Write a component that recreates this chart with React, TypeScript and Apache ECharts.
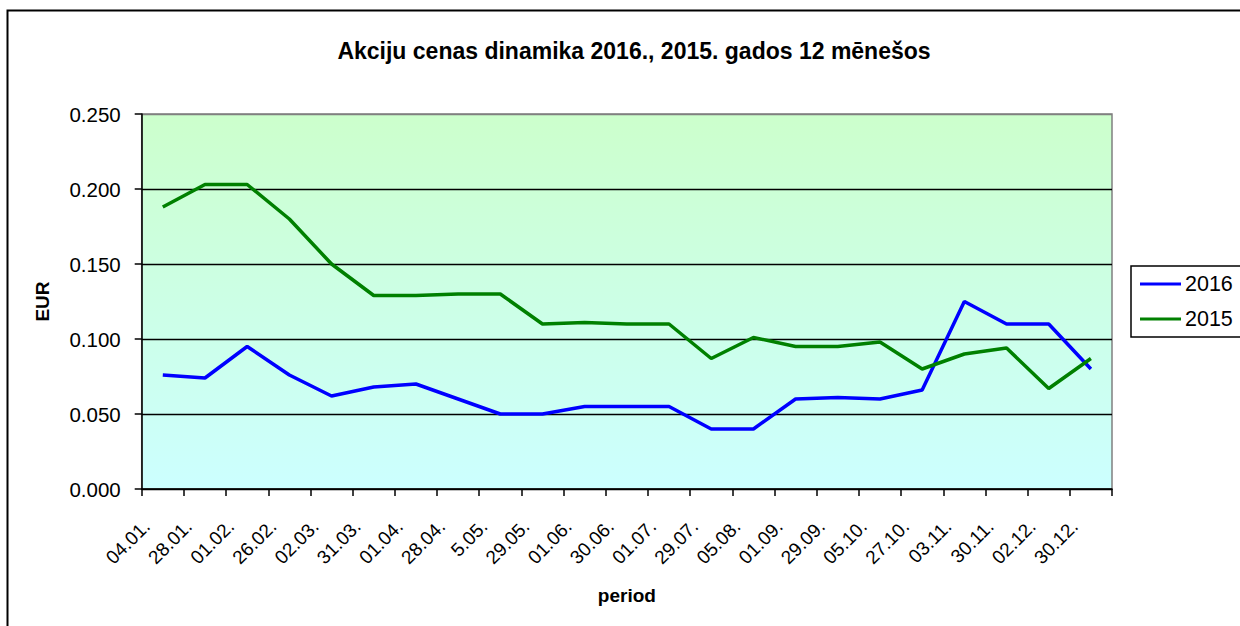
import React, { useEffect, useRef } from "react";
import * as echarts from "echarts";

const categories = [
  "04.01.", "28.01.", "01.02.", "26.02.", "02.03.", "31.03.", "01.04.", "28.04.",
  "5.05.", "29.05.", "01.06.", "30.06.", "01.07.", "29.07.", "05.08.", "01.09.",
  "29.09.", "05.10.", "27.10.", "03.11.", "30.11.", "02.12.", "30.12.",
];
const values2016 = [
  0.076, 0.074, 0.095, 0.076, 0.062, 0.068, 0.070, 0.060, 0.050, 0.050, 0.055, 0.055,
  0.055, 0.040, 0.040, 0.060, 0.061, 0.060, 0.066, 0.125, 0.110, 0.110, 0.080,
];
const values2015 = [
  0.188, 0.203, 0.203, 0.180, 0.150, 0.129, 0.129, 0.130, 0.130, 0.110, 0.111, 0.110,
  0.110, 0.087, 0.101, 0.095, 0.095, 0.098, 0.080, 0.090, 0.094, 0.067, 0.087,
];
const seriesNames = ["2016", "2015"];
const titleText = "Akciju cenas dinamika 2016., 2015. gados 12 mēnešos";

export default function App() {
  const ref = useRef<HTMLDivElement>(null);
  useEffect(() => {
    if (!ref.current) return;
    const chart = echarts.init(ref.current, null, { renderer: "svg" });
    const font = "Arial, 'Liberation Sans', sans-serif";
    chart.setOption({
      animation: false,
      backgroundColor: "#ffffff",
      textStyle: { fontFamily: font },
      title: {
        text: titleText,
        left: 629,
        top: 34,
        textAlign: "center",
        textStyle: { fontSize: 23, fontWeight: "bold", color: "#000", fontFamily: font },
      },
      graphic: [
        {
          type: "rect",
          shape: { x: 7.5, y: 10.5, width: 1400, height: 800 },
          style: { fill: "none", stroke: "#000", lineWidth: 2 },
          silent: true,
        },
      ],
      legend: {
        orient: "vertical",
        left: 1131,
        top: 266,
        data: seriesNames,
        icon: "rect",
        itemWidth: 41,
        itemHeight: 3,
        itemGap: 13,
        borderColor: "#000",
        borderWidth: 1.5,
        padding: [7, 20, 7, 9],
        textStyle: { fontSize: 21.5, color: "#000", fontFamily: font, padding: [0, 0, 0, -1] },
      },
      grid: {
        left: 141.7,
        top: 114,
        right: 128,
        bottom: 137,
        show: true,
        borderColor: "#808080",
        borderWidth: 1.5,
        backgroundColor: new echarts.graphic.LinearGradient(0, 0, 0, 1, [
          { offset: 0, color: "#ccffcc" },
          { offset: 1, color: "#ccffff" },
        ]),
      },
      xAxis: {
        type: "category",
        data: categories,
        boundaryGap: true,
        name: "period",
        nameLocation: "middle",
        nameGap: 97,
        nameTextStyle: { fontSize: 19, fontWeight: "bold", color: "#000", fontFamily: font },
        axisLine: { lineStyle: { color: "#000", width: 1.5 } },
        axisTick: { show: true, length: 7, lineStyle: { color: "#000", width: 1.5 } },
        axisLabel: {
          interval: 0,
          rotate: 45,
          margin: 18,
          padding: [0, 23, 0, 0],
          fontSize: 19,
          color: "#000",
          fontFamily: font,
        },
        splitLine: { show: false },
      },
      yAxis: {
        type: "value",
        min: 0,
        max: 0.25,
        interval: 0.05,
        name: "EUR",
        nameLocation: "middle",
        nameGap: 90,
        nameTextStyle: { fontSize: 19, fontWeight: "bold", color: "#000", fontFamily: font },
        axisLine: { show: true, lineStyle: { color: "#000", width: 1.5 } },
        axisTick: { show: true, length: 7, lineStyle: { color: "#000", width: 1.5 } },
        axisLabel: {
          margin: 21,
          fontSize: 20.5,
          color: "#000",
          fontFamily: font,
          formatter: (v: number) => v.toFixed(3),
        },
        splitLine: {
          show: true,
          lineStyle: {
            color: ["#000", "#000", "#000", "#000", "#000", "#808080"],
            width: 1.3,
          },
        },
      },
      series: [
        {
          name: seriesNames[0],
          type: "line",
          data: values2016,
          showSymbol: false,
          symbol: "none",
          lineStyle: { color: "#0000ff", width: 3.5 },
          itemStyle: { color: "#0000ff" },
        },
        {
          name: seriesNames[1],
          type: "line",
          data: values2015,
          showSymbol: false,
          symbol: "none",
          lineStyle: { color: "#008000", width: 3.5 },
          itemStyle: { color: "#008000" },
        },
      ],
    });
    return () => chart.dispose();
  }, []);
  return (
    <div
      ref={ref}
      style={{ position: "fixed", left: 0, top: 0, width: 1240, height: 626 }}
    />
  );
}
